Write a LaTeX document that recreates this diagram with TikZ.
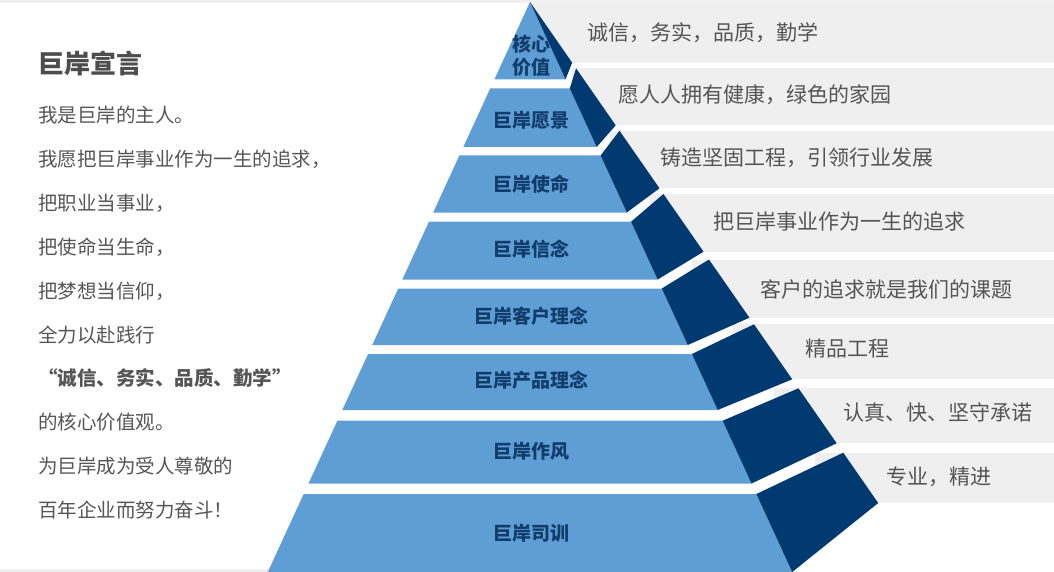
\documentclass[tikz,border=0pt]{standalone}
\usepackage{fontspec}
\newfontfamily\cjk{Noto Sans CJK SC}
\definecolor{lightblue}{HTML}{5F9ED5}
\definecolor{darkblue}{HTML}{003A70}
\definecolor{barcol}{HTML}{EFEFEF}
\definecolor{stripcol}{HTML}{F0F0F0}
\definecolor{txtgray}{HTML}{555555}
\definecolor{titlegray}{HTML}{4D4D4D}
\definecolor{navy}{HTML}{113D6D}
\newcommand\pyxL[1]{530-0.46*(#1-2)}
\newcommand\pyxR[1]{530+0.46*(#1-2)}
\newcommand\pyxO[1]{530+0.695*(#1-2)}
\newcommand\pyxB[1]{610+0.637*(#1-130.7)}
\begin{document}
\begin{tikzpicture}[x=1pt,y=-1pt,
  bartext/.style={anchor=west,inner sep=0,text=txtgray,font=\cjk\fontsize{21}{24}\selectfont},
  laylabel/.style={inner sep=0,text=navy,align=center,font=\cjk\bfseries\fontsize{19}{23}\selectfont},
  bodytext/.style={anchor=west,inner sep=0,text=txtgray,font=\cjk\fontsize{19.5}{23}\selectfont},
  titletext/.style={anchor=west,inner sep=0,text=titlegray,font=\cjk\bfseries\fontsize{26}{30}\selectfont}]
\useasboundingbox (0,0) rectangle (1054,572);
% frame strips
\fill[stripcol] (0,0) rectangle (1054,3);
\fill[stripcol] (0,568.5) rectangle (280,572);
% gray bars
\fill[barcol] (530,2) rectangle (1054,62.7);
\fill[barcol] (572,68.3) rectangle (1054,125.3);
\foreach \bt/\bb in {130.7/188.3, 194/251.7, 259.5/317.7, 324.3/379.3, 388.3/443.3, 452.7/503}
  \fill[barcol] ({\pyxB{\bt}},\bt) rectangle (1054,\bb);
% top layer
\fill[lightblue] (530,2) -- ({\pyxR{79.3}},79.3) -- ({\pyxL{79.3}},79.3) -- cycle;
\fill[darkblue] (530,2) -- ({\pyxO{62.7}},62.7) -- ({\pyxR{79.3}},79.3) -- cycle;
% other layers
\foreach \lt/\lb/\bt/\bb in {88.5/147/68.3/125.3, 155.5/212.5/130.7/188.3, 221.7/279.5/194/251.7, 288.5/345/259.5/317.7, 354/410/324.3/379.3, 420.7/483.5/388.3/443.3, 494/572/452.7/503}
{
  \fill[lightblue] ({\pyxL{\lt}},\lt) -- ({\pyxR{\lt}},\lt) -- ({\pyxR{\lb}},\lb) -- ({\pyxL{\lb}},\lb) -- cycle;
  \fill[darkblue] ({\pyxR{\lt}},\lt) -- ({\pyxO{\bt}},\bt) -- ({\pyxO{\bb}},\bb) -- ({\pyxR{\lb}},\lb) -- cycle;
}
% pyramid labels
\node[laylabel] (l1) at (531,56) {核心\\价值};
\node[laylabel] (l2) at (531,120) {巨岸愿景};
\node[laylabel] (l3) at (531,184) {巨岸使命};
\node[laylabel] (l4) at (531,249) {巨岸信念};
\node[laylabel] (l5) at (531,316) {巨岸客户理念};
\node[laylabel] (l6) at (531,380) {巨岸产品理念};
\node[laylabel] (l7) at (531,451) {巨岸作风};
\node[laylabel] (l8) at (531,533) {巨岸司训};
% bar texts
\node[bartext] (t1) at (587,33) {诚信，务实，品质，勤学};
\node[bartext] (t2) at (618,95) {愿人人拥有健康，绿色的家园};
\node[bartext] (t3) at (660,158) {铸造坚固工程，引领行业发展};
\node[bartext] (t4) at (713,221) {把巨岸事业作为一生的追求};
\node[bartext] (t5) at (760,289) {客户的追求就是我们的课题};
\node[bartext] (t6) at (805,349) {精品工程};
\node[bartext] (t7) at (843,413) {认真、快、坚守承诺};
\node[bartext] (t8) at (886,477) {专业，精进};
% left text
\node[titletext] (title) at (38,64) {巨岸宣言};
\node[bodytext] (b1) at (38,115) {我是巨岸的主人。};
\node[bodytext] (b2) at (38,159) {我愿把巨岸事业作为一生的追求，};
\node[bodytext] (b3) at (38,203) {把职业当事业，};
\node[bodytext] (b4) at (38,247) {把使命当生命，};
\node[bodytext] (b5) at (38,291) {把梦想当信仰，};
\node[bodytext] (b6) at (38,335) {全力以赴践行};
\node[bodytext,font=\cjk\bfseries\fontsize{19.5}{23}\selectfont] (b7) at (38,378) {“诚信、务实、品质、勤学”};
\node[bodytext] (b8) at (38,422) {的核心价值观。};
\node[bodytext] (b9) at (38,466) {为巨岸成为受人尊敬的};
\node[bodytext] (b10) at (38,510) {百年企业而努力奋斗！};
\end{tikzpicture}
\end{document}
